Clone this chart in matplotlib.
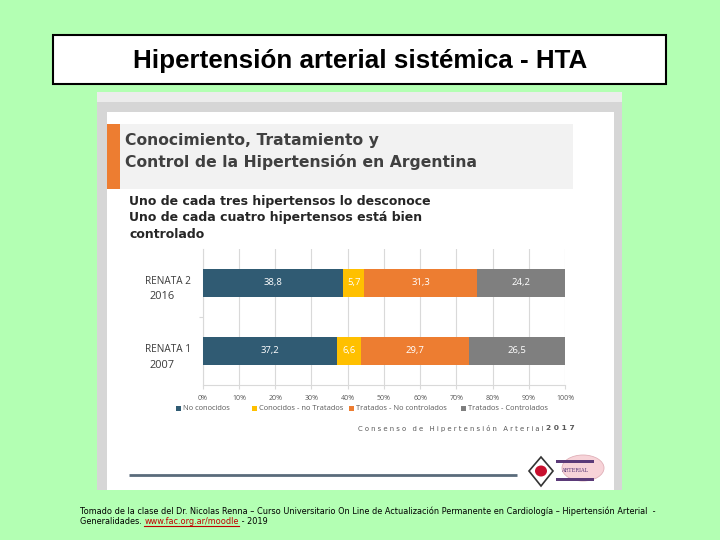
import matplotlib
matplotlib.use("Agg")
import matplotlib.pyplot as plt
from matplotlib.patches import Rectangle, Polygon, Ellipse

# ----------------------------------------------------------------------
# Data
# ----------------------------------------------------------------------
categories = ["RENATA 1", "RENATA 2"]
years = ["2007", "2016"]
series_names = ["No conocidos", "Conocidos - no Tratados",
                "Tratados - No controlados", "Tratados - Controlados"]
no_conocidos = [37.2, 38.8]
conocidos_no_tratados = [6.6, 5.7]
tratados_no_controlados = [29.7, 31.3]
tratados_controlados = [26.5, 24.2]
series_values = [no_conocidos, conocidos_no_tratados,
                 tratados_no_controlados, tratados_controlados]
series_colors = ["#305B73", "#FFC000", "#ED7D31", "#7F7F7F"]
x_ticks = list(range(0, 101, 10))

SLIDE_TITLE = "Hipertensión arterial sistémica - HTA"
CHART_TITLE = ["Conocimiento, Tratamiento y",
               "Control de la Hipertensión en Argentina"]
SUBTITLE = ["Uno de cada tres hipertensos lo desconoce",
            "Uno de cada cuatro hipertensos está bien",
            "controlado"]
FOOTER_1 = ("Tomado de la clase del Dr. Nicolas Renna – Curso Universitario On Line de "
            "Actualización Permanente en Cardiología – Hipertensión Arterial  -")
FOOTER_2 = ["Generalidades. ", "www.fac.org.ar/moodle", " - 2019"]

PT = 0.72  # px -> pt at dpi 100

fig = plt.figure(figsize=(7.2, 5.4), dpi=100)
fig.patch.set_facecolor("#B3FFB3")

# pixel-space background axes
bg = fig.add_axes([0, 0, 1, 1])
bg.set_xlim(0, 720)
bg.set_ylim(540, 0)
bg.axis("off")

# slide title box
bg.add_patch(Rectangle((53, 35), 613, 49, facecolor="white", edgecolor="black", lw=1.5))
bg.text(360, 61, SLIDE_TITLE, ha="center", va="center", fontsize=26 * PT,
        family="Liberation Sans", fontweight="bold", color="black")

# screenshot frame
bg.add_patch(Rectangle((97, 92), 525, 398, facecolor="#D6D6D6", edgecolor="none"))
bg.add_patch(Rectangle((97, 92), 525, 10, facecolor="#ECECEC", edgecolor="none"))
bg.add_patch(Rectangle((107, 112), 507, 378, facecolor="white", edgecolor="none"))

# chart header
bg.add_patch(Rectangle((107, 124), 466, 65, facecolor="#F2F2F2", edgecolor="none"))
bg.add_patch(Rectangle((107, 124), 13, 65, facecolor="#ED7D31", edgecolor="none"))
for i, line in enumerate(CHART_TITLE):
    bg.text(125, 140 + i * 22, line, ha="left", va="center", fontsize=15.6 * PT,
            family="DejaVu Sans", fontweight="bold", color="#404040")
for i, line in enumerate(SUBTITLE):
    bg.text(129, 201 + i * 17, line, ha="left", va="center", fontsize=12.5 * PT,
            family="DejaVu Sans", fontweight="bold", color="#262626")

# ----------------------------------------------------------------------
# Stacked bar chart
# ----------------------------------------------------------------------
ax = fig.add_axes([202.7 / 720, 1 - 385 / 540, 362.3 / 720, 136 / 540])
ax.set_facecolor("white")
y_pos = list(range(len(categories)))
left = [0.0] * len(categories)
for name, vals, col in zip(series_names, series_values, series_colors):
    bars = ax.barh(y_pos, vals, left=left, height=0.41, color=col, label=name, zorder=3)
    for b, v, l in zip(bars, vals, left):
        ax.text(l + v / 2, b.get_y() + b.get_height() / 2, f"{v:.1f}".replace(".", ","),
                ha="center", va="center", fontsize=9.5 * PT, color="white",
                family="Open Sans", zorder=4)
    left = [l + v for l, v in zip(left, vals)]

ax.set_xlim(0, 100)
ax.set_ylim(-0.5, 1.5)
ax.set_xticks(x_ticks)
ax.set_xticklabels([f"{t}%" for t in x_ticks], fontsize=7 * PT, color="#595959",
                   family="Open Sans")
ax.set_yticks([0.5])
ax.set_yticklabels([""])
ax.grid(axis="x", color="#D9D9D9", lw=0.8, zorder=0)
for side in ["top", "right"]:
    ax.spines[side].set_visible(False)
for side in ["left", "bottom"]:
    ax.spines[side].set_color("#D9D9D9")
    ax.spines[side].set_linewidth(0.8)
ax.tick_params(axis="x", length=3, color="#D9D9D9", pad=4)
ax.tick_params(axis="y", length=3, color="#D9D9D9")

# category labels (left aligned, name over year)
for yp, cat, yr in zip(y_pos, categories, years):
    _, py = bg.transData.inverted().transform(ax.transData.transform((0, yp)))
    bg.text(145, py - 1, cat, ha="left", va="center", fontsize=10 * PT,
            color="#3A3A3A", family="Open Sans")
    bg.text(149, py + 14, yr, ha="left", va="center", fontsize=11 * PT,
            color="#3A3A3A", family="Open Sans")

# legend
leg_x = [176, 252, 349, 461]
for lx, name, col in zip(leg_x, series_names, series_colors):
    bg.add_patch(Rectangle((lx, 406), 5, 5, facecolor=col, edgecolor="none"))
    bg.text(lx + 7, 408.5, name, ha="left", va="center", fontsize=7.5 * PT,
            color="#595959", family="Open Sans")

# source caption
bg.text(543, 428, "C o n s e n s o   d e   H i p e r t e n s i ó n   A r t e r i a l",
        ha="right", va="center", fontsize=6.9 * PT, color="#595959", family="DejaVu Sans")
bg.text(575, 428, "2 0 1 7", ha="right", va="center", fontsize=7.5 * PT,
        color="#595959", family="DejaVu Sans", fontweight="bold")

# bottom rule and logo
bg.plot([129, 517], [475, 475], color="#5A6B7B", lw=2, solid_capstyle="butt")
bg.add_patch(Ellipse((583, 468), 42, 26, facecolor="#F7D3D8", edgecolor="#E0B0B8", lw=0.6))
bg.add_patch(Polygon([(541, 457), (553, 471), (541, 486), (529, 471)], closed=True,
                     facecolor="white", edgecolor="#333333", lw=1.2))
bg.add_patch(Ellipse((541, 471), 12, 11, facecolor="#C8102E", edgecolor="none"))
bg.add_patch(Rectangle((556, 460), 38, 3, facecolor="#5B3A78", edgecolor="none"))
bg.add_patch(Rectangle((556, 478), 38, 3, facecolor="#5B3A78", edgecolor="none"))
bg.text(574, 470, "ARTERIAL", ha="center", va="center", fontsize=5 * PT,
        color="#5B3A78", family="DejaVu Serif")

# footer
foot_kw = dict(fontsize=8.1 * PT, family="Liberation Sans Narrow", color="black",
               va="center", ha="left")
bg.text(80, 511, FOOTER_1, **foot_kw)
fig.canvas.draw()
renderer = fig.canvas.get_renderer()
inv = bg.transData.inverted()
x = 80
for i, part in enumerate(FOOTER_2):
    color = "#C00000" if i == 1 else "black"
    t = bg.text(x, 522, part, **{**foot_kw, "color": color})
    bb = t.get_window_extent(renderer=renderer)
    x0 = inv.transform((bb.x0, bb.y0))[0]
    x1 = inv.transform((bb.x1, bb.y0))[0]
    if i == 1:
        bg.plot([x0, x1], [526, 526], color="#C00000", lw=0.8)
    x = x1

fig.savefig("out.png", dpi=100, facecolor=fig.get_facecolor())
